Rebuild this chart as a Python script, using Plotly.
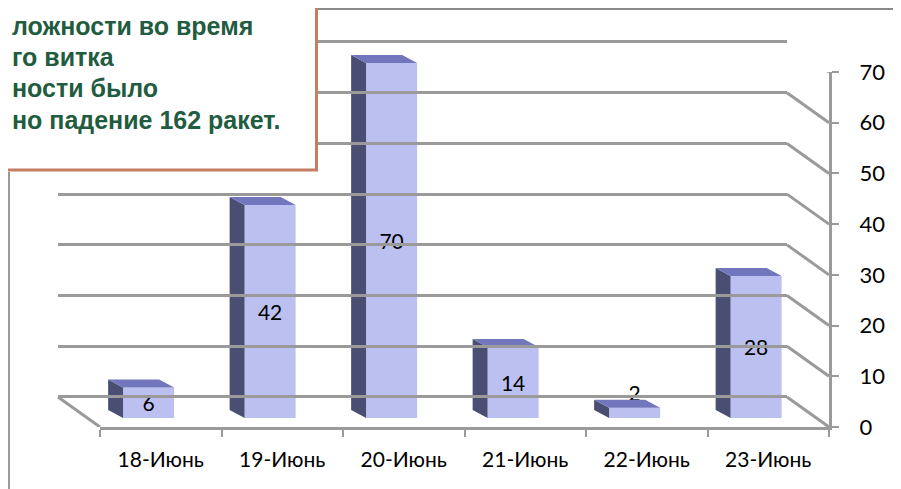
import plotly.graph_objects as go

# ---- data ----
categories = ["18-Июнь", "19-Июнь", "20-Июнь", "21-Июнь", "22-Июнь", "23-Июнь"]
values = [6, 42, 70, 14, 2, 28]
y_ticks = [0, 10, 20, 30, 40, 50, 60, 70]
note_lines = ["ложности во время", "го витка", "ности было", "но падение 162 ракет."]

# ---- geometry helpers (screen pixels -> paper); page body has an 8px margin ----
OFF = 8
W, H = 901 - OFF, 489 - OFF
def px(x):
    return (x - OFF) / W
def py(y):
    return 1 - (y - OFF) / H

K = 355 / 70.0          # pixels per unit on value axes
FRONT_OFF, FRONT_W = -0.31, 0.42   # front face of each bar in category units
DX, DY = 0.123, 8 / K              # depth of the 3D bar (x units, y units)

GRID = "#9a9a9a"
FONT = "Lato"

fig = go.Figure()

# front faces (real bars)
label_pos = ["outside" if v < 4 else "inside" for v in values]
fig.add_trace(go.Bar(
    x=list(range(len(values))), y=values,
    offset=FRONT_OFF, width=FRONT_W,
    marker=dict(color="#bcc0f0", line=dict(width=0)),
    text=values, texttemplate="%{text}", textposition=label_pos, textangle=0,
    insidetextanchor="middle", constraintext="none",
    textfont=dict(family=FONT, size=21, color="#000000"),
    cliponaxis=False, hoverinfo="skip", showlegend=False,
    xaxis="x", yaxis="y",
))

# side and top faces built from the same values
side_x, side_y, top_x, top_y = [], [], [], []
for i, v in enumerate(values):
    xl = i + FRONT_OFF
    xr = xl + FRONT_W
    side_x += [xl, xl, xl - DX, xl - DX, xl, None]
    side_y += [0, v, v + DY, DY, 0, None]
    top_x += [xl, xr, xr - DX, xl - DX, xl, None]
    top_y += [v, v, v + DY, v + DY, v, None]

fig.add_trace(go.Scatter(x=side_x, y=side_y, fill="toself", mode="lines",
                         line=dict(width=0), fillcolor="#4a4e72",
                         hoverinfo="skip", showlegend=False, xaxis="x", yaxis="y"))
fig.add_trace(go.Scatter(x=top_x, y=top_y, fill="toself", mode="lines",
                         line=dict(width=0), fillcolor="#7276bc",
                         hoverinfo="skip", showlegend=False, xaxis="x", yaxis="y"))

# invisible trace to host the back-wall grid
fig.add_trace(go.Scatter(x=[0], y=[0], mode="markers", marker=dict(opacity=0),
                         hoverinfo="skip", showlegend=False, xaxis="x2", yaxis="y3"))

shapes = []
# grey frame lines
shapes.append(dict(type="rect", xref="paper", yref="paper", x0=px(318), x1=1.01,
                   y0=py(8.5), y1=1.01, fillcolor="#f0f0f0", line=dict(width=0), layer="below"))
shapes.append(dict(type="line", xref="paper", yref="paper", x0=px(318), x1=1.01,
                   y0=py(9), y1=py(9), line=dict(color="#8a8a8a", width=2), layer="above"))
shapes.append(dict(type="line", xref="paper", yref="paper", x0=px(9), x1=px(9),
                   y0=-0.01, y1=py(172), line=dict(color="#9a9a9a", width=2), layer="above"))

# diagonal connectors back wall -> front axis
for t in y_ticks:
    shapes.append(dict(type="line", xref="paper", yref="y2", ysizemode="pixel", yanchor=t,
                       x0=px(787), x1=px(829), y0=30, y1=0,
                       line=dict(color=GRID, width=3), layer="below"))
shapes.append(dict(type="line", xref="paper", yref="y2", ysizemode="pixel", yanchor=0,
                   x0=px(58), x1=px(100), y0=30, y1=0,
                   line=dict(color=GRID, width=3), layer="below"))

# text box
shapes.append(dict(type="rect", xref="paper", yref="paper", x0=-0.05, x1=px(316.5),
                   y0=py(170), y1=1.05, fillcolor="#ffffff",
                   line=dict(color="#c47e62", width=3), layer="above"))

annotations = []
line_y = [26, 57, 88, 120]
for txt, yc in zip(note_lines, line_y):
    annotations.append(dict(text="<b>%s</b>" % txt, xref="paper", yref="paper",
                            x=px(10), y=py(yc), xanchor="left", yanchor="middle",
                            showarrow=False,
                            font=dict(family="Liberation Sans, Arial", size=25, color="#1f5c40")))

fig.update_layout(
    width=W, height=H, autosize=False,
    margin=dict(l=0, r=0, t=0, b=0, pad=0),
    paper_bgcolor="#ffffff", plot_bgcolor="rgba(0,0,0,0)",
    showlegend=False,
    shapes=shapes, annotations=annotations,
    xaxis=dict(domain=[px(100), px(829)], range=[-0.5, len(values) - 0.5],
               anchor="y2", showgrid=False, zeroline=False, automargin=False,
               showline=True, linecolor=GRID, linewidth=3,
               tickmode="array", tickvals=list(range(len(values))), ticktext=categories,
               ticks="", ticklabelstandoff=12,
               tickfont=dict(family=FONT, size=21, color="#000000"),
               minor=dict(tickmode="array", tickvals=[i - 0.5 for i in range(len(values) + 1)],
                          ticks="outside", ticklen=7, tickwidth=2, tickcolor=GRID)),
    yaxis=dict(domain=[py(418), py(418 - 80 * K)], range=[0, 80], anchor="x",
               visible=False, showgrid=False, automargin=False),
    yaxis2=dict(domain=[py(427), py(72)], range=[0, 70], anchor="x", side="right",
                showgrid=False, zeroline=False, showline=True, linecolor=GRID, linewidth=3,
                tickmode="array", tickvals=y_ticks, ticks="outside", ticklen=7,
                tickwidth=2, tickcolor=GRID, ticklabelstandoff=16, automargin=False,
                tickfont=dict(family=FONT, size=22, color="#000000")),
    xaxis2=dict(domain=[px(58), px(787)], range=[0, 1], anchor="y3", visible=False,
                automargin=False),
    yaxis3=dict(domain=[py(397 + K), py(397 - 71 * K)], range=[-1, 71], anchor="x2",
                showgrid=True, gridcolor=GRID, gridwidth=3, zeroline=False,
                tickmode="array", tickvals=y_ticks, showticklabels=False, ticks="",
                showline=False, automargin=False),
)

fig.write_html("out.html")
